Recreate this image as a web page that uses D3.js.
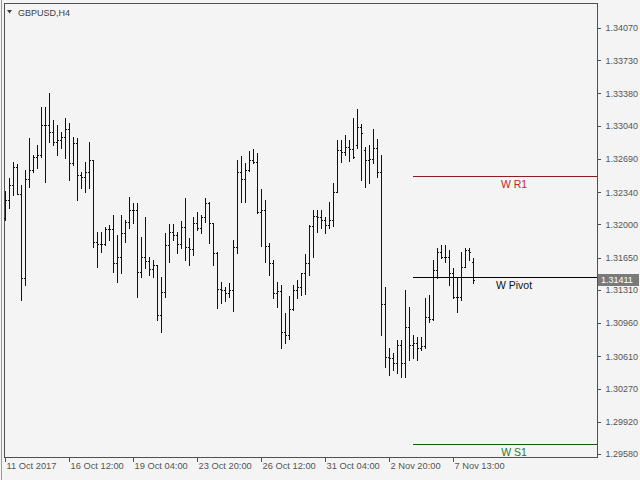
<!DOCTYPE html>
<html><head><meta charset="utf-8">
<script src="https://cdn.jsdelivr.net/npm/d3@7"></script>
<style>html,body{margin:0;padding:0;background:#f4f4f4;}svg{display:block}</style>
</head><body><svg id="c" width="640" height="480"></svg>
<script>
const symbol = "GBPUSD,H4";
const openP = [
1.32067,1.32257,1.32415,1.32605,1.32320,1.31435,1.32478,1.32573,1.32710,1.32731,
1.33048,1.33048,1.32974,1.32868,1.32889,1.32921,1.33005,1.32647,1.32858,1.32521,
1.32499,1.32552,1.32679,1.31814,1.31793,1.31793,1.31951,1.31951,1.31593,1.31656,
1.31909,1.32025,1.32152,1.32152,1.31498,1.31656,1.31614,1.31530,1.31572,1.31045,
1.31287,1.31783,1.31920,1.31888,1.31793,1.31972,1.31762,1.31741,1.32015,1.31962,
1.32078,1.32225,1.32015,1.31698,1.31319,1.31308,1.31277,1.31308,1.31762,1.32552,
1.32478,1.32573,1.32679,1.32658,1.32131,1.32152,1.31772,1.31593,1.31277,1.31298,
1.30866,1.30834,1.31108,1.31308,1.31340,1.31488,1.31593,1.31983,1.32088,1.32078,
1.32046,1.31994,1.32046,1.32341,1.32784,1.32763,1.32816,1.32795,1.32837,1.33026,
1.32784,1.32679,1.32689,1.32805,1.32552,1.31161,1.30602,1.30592,1.30539,1.30729,
1.30539,1.30918,1.30729,1.30750,1.30697,1.30718,1.31024,1.31003,1.31519,1.31709,
1.31656,1.31656,1.31488,1.31235,1.31235,1.31551,1.31730,1.31604];
const highP = [
1.32352,1.32489,1.32658,1.32636,1.32415,1.32573,1.32910,1.32731,1.32837,1.33237,
1.33237,1.33385,1.33100,1.33048,1.32974,1.33121,1.33069,1.32921,1.32910,1.32552,
1.32658,1.32868,1.32679,1.31920,1.31920,1.31972,1.31994,1.32099,1.31888,1.32099,
1.32046,1.32289,1.32225,1.32225,1.31867,1.32078,1.31656,1.31625,1.31572,1.31445,
1.31909,1.32004,1.32004,1.31920,1.32036,1.32278,1.31856,1.32078,1.32131,1.32099,
1.32278,1.32236,1.32015,1.31709,1.31393,1.31340,1.31382,1.31835,1.32679,1.32721,
1.32647,1.32773,1.32795,1.32752,1.32373,1.32257,1.31804,1.31625,1.31393,1.31361,
1.31066,1.31245,1.31361,1.31414,1.31488,1.31688,1.31994,1.32152,1.32152,1.32152,
1.32078,1.32236,1.32436,1.32889,1.32889,1.32942,1.32889,1.33121,1.33216,1.33058,
1.32816,1.32837,1.33005,1.32900,1.32731,1.31340,1.30697,1.30644,1.30781,1.30781,
1.31308,1.31129,1.30834,1.30813,1.30813,1.31224,1.31256,1.31625,1.31751,1.31783,
1.31783,1.31730,1.31540,1.31445,1.31709,1.31751,1.31751,1.31646];
const lowP = [
1.32046,1.32173,1.32310,1.32320,1.31203,1.31361,1.32394,1.32552,1.32594,1.32710,
1.32447,1.32868,1.32837,1.32731,1.32805,1.32700,1.32468,1.32626,1.32257,1.32383,
1.32341,1.32383,1.31762,1.31551,1.31709,1.31783,1.31835,1.31498,1.31393,1.31488,
1.31814,1.31962,1.32015,1.31235,1.31445,1.31540,1.31467,1.31445,1.30992,1.30866,
1.31235,1.31604,1.31835,1.31698,1.31751,1.31625,1.31572,1.31677,1.31941,1.31909,
1.32025,1.31804,1.31572,1.31119,1.31171,1.31192,1.31235,1.31087,1.31698,1.32236,
1.32236,1.32563,1.32647,1.32120,1.31772,1.31604,1.31467,1.31224,1.31129,1.30697,
1.30750,1.30792,1.31098,1.31224,1.31256,1.31266,1.31467,1.31656,1.31920,1.31962,
1.31909,1.31962,1.31983,1.32341,1.32658,1.32731,1.32668,1.32700,1.32805,1.32468,
1.32394,1.32436,1.32647,1.32499,1.30834,1.30497,1.30413,1.30465,1.30434,1.30392,
1.30392,1.30571,1.30592,1.30571,1.30676,1.30697,1.30971,1.30992,1.31435,1.31646,
1.31604,1.31361,1.31224,1.31077,1.31203,1.31551,1.31625,1.31382];
const closeP = [
1.32257,1.32415,1.32605,1.32320,1.31435,1.32478,1.32573,1.32710,1.32731,1.33048,
1.33048,1.32974,1.32868,1.32889,1.32921,1.33005,1.32647,1.32858,1.32521,1.32499,
1.32552,1.32679,1.31814,1.31793,1.31793,1.31951,1.31951,1.31593,1.31656,1.31909,
1.32025,1.32152,1.32152,1.31498,1.31656,1.31614,1.31530,1.31572,1.31045,1.31287,
1.31783,1.31920,1.31888,1.31793,1.31972,1.31762,1.31741,1.32015,1.31962,1.32078,
1.32225,1.32015,1.31698,1.31319,1.31308,1.31277,1.31308,1.31762,1.32552,1.32478,
1.32573,1.32679,1.32658,1.32131,1.32152,1.31772,1.31593,1.31277,1.31298,1.30866,
1.30834,1.31108,1.31308,1.31340,1.31488,1.31593,1.31983,1.32088,1.32078,1.32046,
1.31994,1.32046,1.32341,1.32784,1.32763,1.32816,1.32795,1.32710,1.33026,1.32963,
1.32679,1.32689,1.32805,1.32552,1.31161,1.30602,1.30592,1.30539,1.30729,1.30539,
1.30918,1.30729,1.30750,1.30697,1.30718,1.31024,1.31003,1.31519,1.31709,1.31656,
1.31656,1.31488,1.31235,1.31235,1.31551,1.31730,1.31709,1.31411];
const yTickValues = [1.34070,1.33730,1.33380,1.33040,1.32690,1.32340,1.32000,1.31650,1.31310,1.30960,1.30610,1.30270,1.29920,1.29580];
const xTickBars = [0,16,32,48,64,80,96,112];
const xTickLabels = ["11 Oct 2017","16 Oct 12:00","19 Oct 04:00","23 Oct 20:00","26 Oct 12:00","31 Oct 04:00","2 Nov 20:00","7 Nov 13:00"];
const levelNames = ["W R1","W Pivot","W S1"];
const levelValues = [1.32510,1.31445,1.29685];
const levelStartBar = 102;
const lastPrice = 1.31411;

const FONT = "'Liberation Sans',Arial,sans-serif";
const frame = {l:4, t:3, r:597, b:457};
const svg = d3.select("#c");
svg.append("rect").attr("width",640).attr("height",480).attr("fill","#f4f4f4");

const x = d3.scaleLinear().domain([0, openP.length-1]).range([5, 5 + 4*(openP.length-1)]);
const y = d3.scaleLinear().domain([1.29580, 1.34070]).range([454, 28]);

// outer window line
svg.append("line").attr("x1",1.5).attr("x2",1.5).attr("y1",0).attr("y2",480).attr("stroke","#9a9a9a");
// frame
svg.append("rect").attr("x",frame.l+0.5).attr("y",frame.t+0.5)
  .attr("width",frame.r-frame.l).attr("height",frame.b-frame.t)
  .attr("fill","none").attr("stroke","#505050").attr("shape-rendering","crispEdges");

// title
svg.append("path").attr("d","M7,10 L12,10 L9.5,13.5 Z").attr("fill","#404040");
svg.append("text").attr("x",18).attr("y",16).text(symbol)
  .attr("font-family",FONT).attr("font-size","9px").attr("fill","#404040");

// levels
const lvColors = ["#8b1f1f","#000000","#0a5f0a"];
const lvText = ["#c02828","#111111","#2e7a2e"];
const lvStart = Math.round(x(levelStartBar));
levelValues.forEach((v,i)=>{
  const yy = Math.round(y(v))+0.5;
  svg.append("line").attr("x1",lvStart).attr("x2",frame.r).attr("y1",yy).attr("y2",yy)
    .attr("stroke",lvColors[i]).attr("stroke-width",1).attr("shape-rendering","crispEdges");
  svg.append("text").attr("x",514).attr("y",yy+11).attr("text-anchor","middle")
    .attr("font-family",FONT).attr("font-size","10.5px").attr("fill",lvText[i]).text(levelNames[i]);
});

// bars
const bars = svg.append("g").attr("stroke","#111").attr("stroke-width",1).attr("shape-rendering","crispEdges");
openP.forEach((o,i)=>{
  const xc = Math.round(x(i));
  const g = bars.append("g");
  g.append("line").attr("x1",xc+0.5).attr("x2",xc+0.5)
    .attr("y1",Math.round(y(highP[i]))).attr("y2",Math.round(y(lowP[i]))+1);
  const yo = Math.round(y(o))+0.5, yc = Math.round(y(closeP[i]))+0.5;
  g.append("line").attr("x1",xc-1).attr("x2",xc).attr("y1",yo).attr("y2",yo);
  g.append("line").attr("x1",xc+1).attr("x2",xc+2).attr("y1",yc).attr("y2",yc);
});

// y axis
const yAxis = svg.append("g").attr("transform",`translate(${frame.r+0.5},0)`)
  .call(d3.axisRight(y).tickValues(yTickValues).tickFormat(d3.format(".5f")).tickSize(3).tickPadding(5));
yAxis.select(".domain").remove();
yAxis.selectAll("line").attr("stroke","#505050").attr("shape-rendering","crispEdges");
yAxis.selectAll("text").attr("font-family",FONT).attr("font-size","9px").attr("fill","#555");

// x axis
const xAxis = svg.append("g").attr("transform",`translate(0,${frame.b+0.5})`)
  .call(d3.axisBottom(x).tickValues(xTickBars).tickFormat((d,i)=>xTickLabels[i]).tickSize(4));
xAxis.select(".domain").remove();
xAxis.selectAll("line").attr("stroke","#505050").attr("shape-rendering","crispEdges")
  .attr("transform","translate(-0.5,0)");
xAxis.selectAll("text").attr("font-family",FONT).attr("font-size","9.3px").attr("fill","#555")
  .attr("text-anchor","start").attr("x",1).attr("y",5).attr("dy","0.71em");

// last price box
const yl = y(lastPrice);
svg.append("rect").attr("x",frame.r+1).attr("y",Math.round(yl)-6).attr("width",41).attr("height",12).attr("fill","#7a7a7a");
svg.append("text").attr("x",frame.r+4).attr("y",yl).attr("dy","0.35em").text(lastPrice.toFixed(5))
  .attr("font-family",FONT).attr("font-size","9px").attr("fill","#ffffff");
</script></body></html>
